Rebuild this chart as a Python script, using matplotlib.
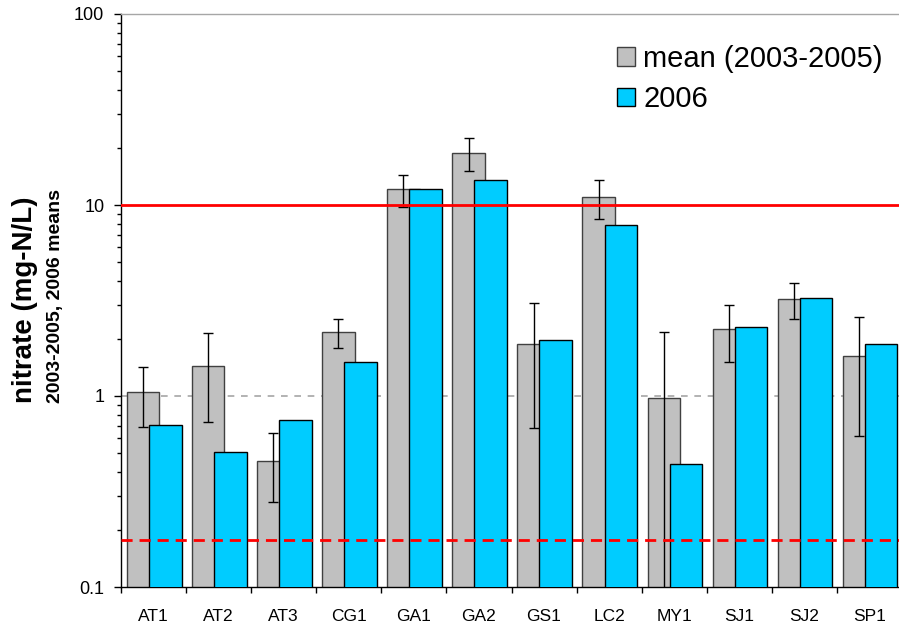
import numpy as np
import matplotlib
matplotlib.use("Agg")
import matplotlib.pyplot as plt
from matplotlib.patches import Patch

# ---- data ----
sites = ["AT1", "AT2", "AT3", "CG1", "GA1", "GA2", "GS1", "LC2", "MY1", "SJ1", "SJ2", "SP1"]
mean_0305 = [1.05, 1.43, 0.458, 2.16, 12.1, 18.8, 1.87, 11.0, 0.976, 2.24, 3.21, 1.61]
sd_0305 = [0.36, 0.70, 0.18, 0.37, 2.3, 3.7, 1.19, 2.55, 1.18, 0.74, 0.68, 0.99]
mean_2006 = [0.708, 0.508, 0.752, 1.50, 12.1, 13.5, 1.96, 7.9, 0.442, 2.30, 3.24, 1.87]
limit_mcl = 10.0
limit_ref = 0.177
ytick_vals = [0.1, 1, 10, 100]
ytick_labels = ["0.1", "1", "10", "100"]
legend_labels = ["mean (2003-2005)", "2006"]

plt.rcParams['font.family'] = ['Liberation Sans', 'DejaVu Sans']

fig = plt.figure(figsize=(8.99, 6.25), dpi=100)
W, H = 899, 625
ax = fig.add_axes([121 / W, 38 / H, (902 - 121) / W, (587 - 14) / H])

x = np.arange(len(sites))
mean_arr = np.array(mean_0305)
sd_arr = np.array(sd_0305)
lower = np.where(mean_arr - sd_arr > 0, sd_arr, mean_arr - 1e-3)

gray_c = "#C0C0C0"
blue_c = "#00CCFF"

ax.set_yscale("log")
ax.set_ylim(0.1, 100)
ax.set_xlim(-0.5, len(sites) - 0.5)

# grid line at 1 (dashed gray)
ax.axhline(1.0, color="#A6A6A6", lw=1.2, ls=(0, (4, 4)), zorder=0.5)

ax.bar(x - 0.16, mean_0305, width=0.5, color=gray_c, edgecolor="#404040", lw=1.0, zorder=2)
ax.bar(x + 0.18, mean_2006, width=0.5, color=blue_c, edgecolor="black", lw=1.0, zorder=3)
ax.errorbar(x - 0.16, mean_0305, yerr=[lower, sd_arr], fmt="none", ecolor="black",
            elinewidth=1.0, capsize=3.5, capthick=1.0, zorder=4)

ax.axhline(limit_mcl, color="#FF0000", lw=2.0, zorder=5)
ax.axhline(limit_ref, color="#FF0000", lw=2.0, ls=(0, (4, 2.5)), zorder=5)

# spines
ax.spines["right"].set_visible(False)
ax.spines["top"].set_color("#A6A6A6")
ax.spines["top"].set_linewidth(1.0)
ax.spines["left"].set_linewidth(1.0)
ax.spines["bottom"].set_linewidth(1.0)

# y ticks
ax.set_yticks(ytick_vals)
ax.set_yticklabels(ytick_labels)
ax.yaxis.set_minor_locator(matplotlib.ticker.LogLocator(base=10, subs=np.arange(2, 10)))
ax.yaxis.set_minor_formatter(matplotlib.ticker.NullFormatter())
ax.tick_params(axis="y", which="major", direction="out", length=5, width=1, labelsize=13, pad=7)
ax.tick_params(axis="y", which="minor", direction="out", length=3, width=1)

# x ticks: labels at centers, tick marks at boundaries
ax.set_xticks(x)
ax.set_xticklabels(sites)
ax.set_xticks(np.arange(len(sites) + 1) - 0.5, minor=True)
ax.tick_params(axis="x", which="major", length=0, labelsize=12.5, pad=16)
ax.tick_params(axis="x", which="minor", direction="out", length=4, width=1)

# y label (two lines of different sizes)
fig.text(25 / W, 1 - 300 / H, "nitrate (mg-N/L)", rotation=90, ha="center", va="center",
         fontsize=20, fontweight="bold")
fig.text(56 / W, 1 - 296 / H, "2003-2005, 2006 means", rotation=90, ha="center", va="center",
         fontsize=14, fontweight="bold")

handles = [Patch(facecolor=gray_c, edgecolor="#404040", lw=1.0),
           Patch(facecolor=blue_c, edgecolor="black", lw=1.0)]
ax.legend(handles, legend_labels, loc="upper left", bbox_to_anchor=(617 / W, 1 - 45 / H),
          bbox_transform=fig.transFigure, frameon=False, fontsize=21, borderpad=0,
          borderaxespad=0, handlelength=0.62, handleheight=0.62, handletextpad=0.28,
          labelspacing=0.42)

fig.savefig("out.png", dpi=100)
